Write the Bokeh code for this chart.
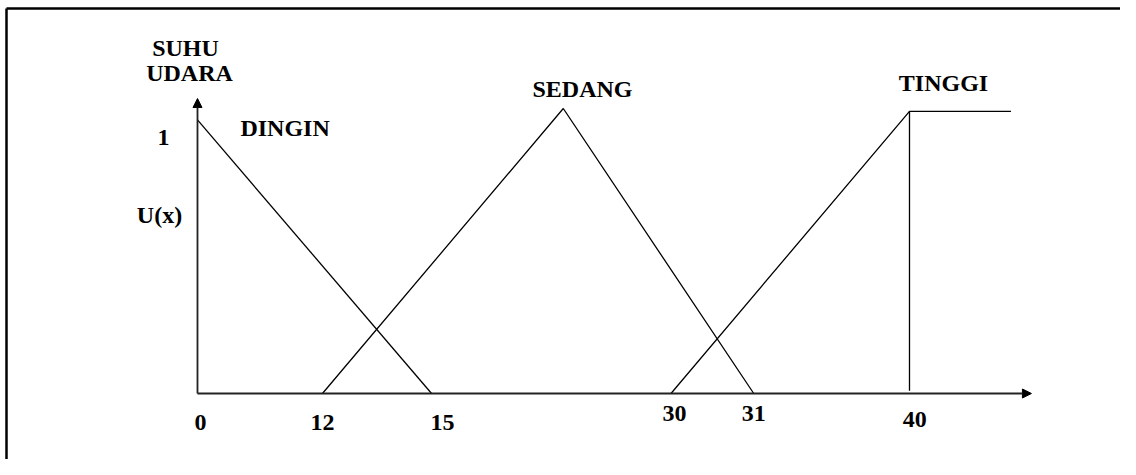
from bokeh.plotting import figure
from bokeh.models import Arrow, NormalHead, Range1d
from bokeh.core.properties import value
from bokeh.embed import file_html
from bokeh.resources import INLINE

# ---- data (schematic axis positions) ----
tick_labels = ["0", "12", "15", "30", "31", "40"]
tick_pos = [0.0, 7.02, 13.15, 26.6, 31.25, 40.0]       # where each breakpoint sits on the drawn axis
tick_label_x = [0.17, 7.02, 13.76, 26.8, 31.25, 40.3]
tick_label_y = [-0.102, -0.102, -0.102, -0.07, -0.07, -0.091]

dingin_x = [0.0, 13.15]
dingin_u = [0.96, 0.0]
sedang_x = [7.02, 20.55, 31.25]
sedang_u = [0.0, 1.0, 0.0]
tinggi_x = [26.6, 40.0, 45.7]
tinggi_u = [0.0, 0.99, 0.99]
tinggi_drop_x = [40.0, 40.0]
tinggi_drop_u = [0.99, 0.01]

set_names = ["DINGIN", "SEDANG", "TINGGI"]
set_name_x = [4.92, 21.63, 41.91]
set_name_y = [0.933, 1.070, 1.088]

x_axis_end = 46.85
y_axis_end = 1.035

FONT = value("Liberation Serif")

p = figure(width=1120, height=459,
           x_range=Range1d(-11.067, 51.854), y_range=Range1d(-0.2316, 1.3789),
           x_axis_type=None, y_axis_type=None,
           output_backend="svg", toolbar_location=None, min_border=0)
p.grid.visible = False
p.outline_line_color = None
p.background_fill_color = "white"
p.border_fill_color = "white"

# frame border (top and left edges)
p.line([-10.73, 51.854], [1.3509, 1.3509], line_color="black", line_width=2.5)
p.line([-10.73, -10.73], [1.3509, -0.2316], line_color="black", line_width=2.5)

# axes with arrow heads
p.add_layout(Arrow(x_start=0, y_start=0, x_end=x_axis_end, y_end=0,
                   line_color="#222222", line_width=1.8,
                   end=NormalHead(size=9, fill_color="black", line_color="black", line_width=1)))
p.add_layout(Arrow(x_start=0, y_start=0, x_end=0, y_end=y_axis_end,
                   line_color="#222222", line_width=1.8,
                   end=NormalHead(size=9, fill_color="black", line_color="black", line_width=1)))

# membership functions
lw = 1.3
p.line(dingin_x, dingin_u, line_color="black", line_width=lw)
p.line(sedang_x, sedang_u, line_color="black", line_width=lw)
p.line(tinggi_x, tinggi_u, line_color="black", line_width=lw)
p.line(tinggi_drop_x, tinggi_drop_u, line_color="black", line_width=lw)

fs = "24px"
common = dict(text_font=FONT, text_font_style="bold", text_font_size=fs,
              text_align="center", text_baseline="alphabetic", text_color="black")

# tick labels
p.text(x=tick_label_x, y=tick_label_y, text=tick_labels, **common)

# set names
p.text(x=set_name_x, y=set_name_y, text=set_names, **common)

# y axis labels
p.text(x=[-0.674, -0.449], y=[1.2105, 1.1228], text=["SUHU", "UDARA"], **common)
p.text(x=[-1.91], y=[0.898], text=["1"], **common)
p.text(x=[-2.135], y=[0.6246], text=["U(x)"], **common)

open("out.html", "w").write(file_html(p, INLINE))
